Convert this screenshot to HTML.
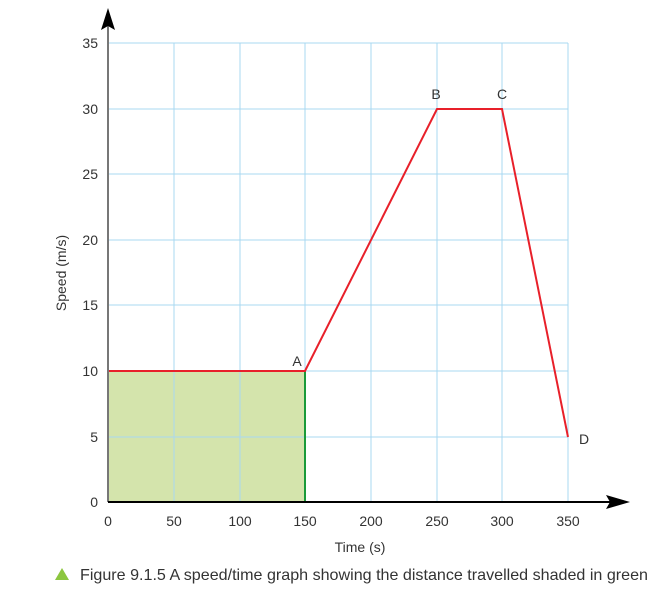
<!DOCTYPE html>
<html><head><meta charset="utf-8"><style>
body{margin:0;background:#fff;}
svg text{font-family:"Liberation Sans",sans-serif;fill:#333;}
</style></head><body>
<svg width="667" height="597" viewBox="0 0 667 597" xmlns="http://www.w3.org/2000/svg">
<rect x="108" y="371" width="197" height="131" fill="#d4e4ac"/>
<g stroke="#a9d8f2" stroke-width="1">
<line x1="174" y1="43" x2="174" y2="502"/><line x1="240" y1="43" x2="240" y2="502"/>
<line x1="305" y1="43" x2="305" y2="502"/><line x1="371" y1="43" x2="371" y2="502"/>
<line x1="437" y1="43" x2="437" y2="502"/><line x1="502" y1="43" x2="502" y2="502"/>
<line x1="568" y1="43" x2="568" y2="502"/>
<line x1="108" y1="43" x2="568" y2="43"/><line x1="108" y1="109" x2="568" y2="109"/>
<line x1="108" y1="174" x2="568" y2="174"/><line x1="108" y1="240" x2="568" y2="240"/>
<line x1="108" y1="305" x2="568" y2="305"/><line x1="108" y1="371" x2="568" y2="371"/>
<line x1="108" y1="437" x2="568" y2="437"/>
</g>
<line x1="305" y1="371" x2="305" y2="502" stroke="#1a9a3a" stroke-width="2"/>
<polyline points="108,371 305,371 437,109 502,109 568,437" fill="none" stroke="#e8202a" stroke-width="2"/>
<line x1="108" y1="502" x2="108" y2="25" stroke="#777" stroke-width="2"/>
<polygon points="108,8 101,30 108,26 115,30" fill="#000"/>
<line x1="108" y1="502" x2="610" y2="502" stroke="#000" stroke-width="2"/>
<polygon points="630,502 606,495 610,502 606,509" fill="#000"/>
<g font-size="14" text-anchor="end">
<text x="98" y="48">35</text><text x="98" y="114">30</text><text x="98" y="179">25</text>
<text x="98" y="245">20</text><text x="98" y="310">15</text><text x="98" y="376">10</text>
<text x="98" y="442">5</text><text x="98" y="507">0</text>
</g>
<g font-size="14" text-anchor="middle">
<text x="108" y="526">0</text><text x="174" y="526">50</text><text x="240" y="526">100</text>
<text x="305" y="526">150</text><text x="371" y="526">200</text><text x="437" y="526">250</text>
<text x="502" y="526">300</text><text x="568" y="526">350</text>
<text x="360" y="552">Time (s)</text>
<text x="297" y="366">A</text><text x="436" y="99">B</text><text x="502" y="99">C</text>
<text x="584" y="444">D</text>
</g>
<text transform="translate(66,273) rotate(-90)" font-size="14" text-anchor="middle">Speed (m/s)</text>
<polygon points="55,580 62,568 69,580" fill="#8cc63f"/>
<text x="80" y="580" font-size="16" textLength="568" lengthAdjust="spacingAndGlyphs">Figure 9.1.5 A speed/time graph showing the distance travelled shaded in green</text>
</svg>
</body></html>
